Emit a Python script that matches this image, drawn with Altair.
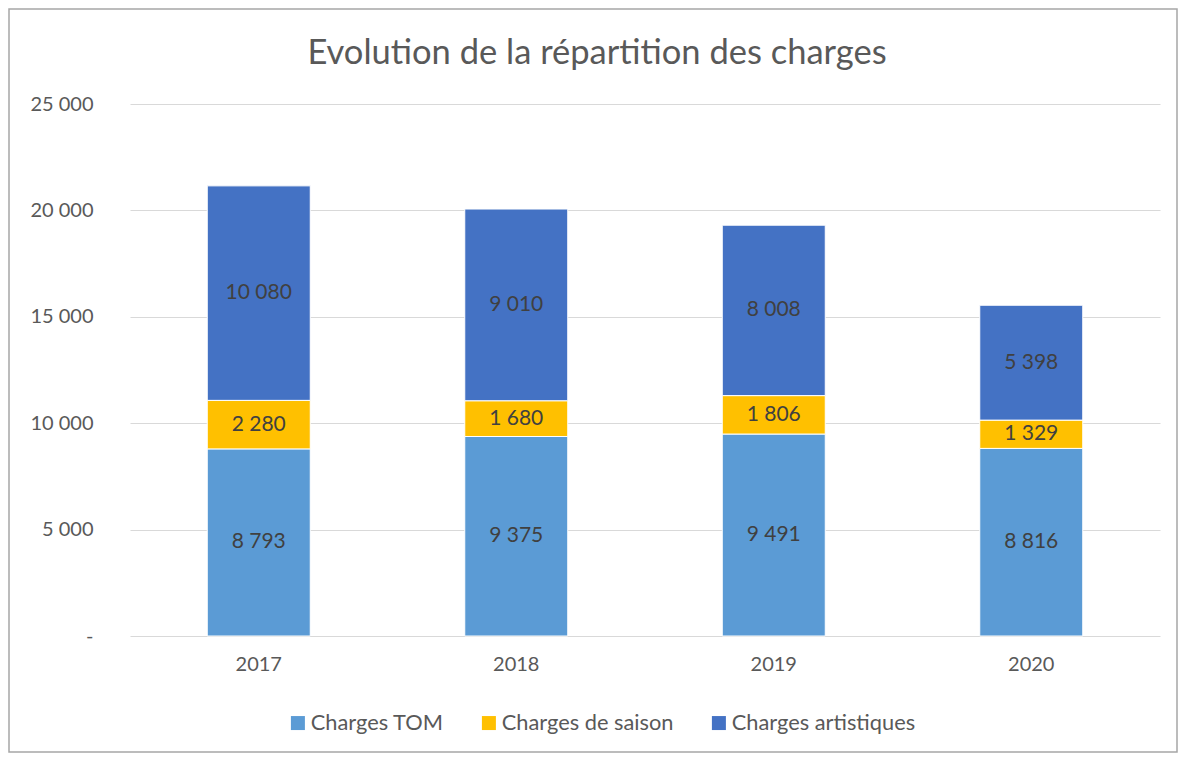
import altair as alt
import pandas as pd

years = ["2017", "2018", "2019", "2020"]
series = ["Charges TOM", "Charges de saison", "Charges artistiques"]
tom = [8793, 9375, 9491, 8816]
saison = [2280, 1680, 1806, 1329]
artistiques = [10080, 9010, 8008, 5398]
colors = ["#5B9BD5", "#FFC000", "#4472C4"]

rows = []
for i, y in enumerate(years):
    for k, (name, vals) in enumerate(zip(series, [tom, saison, artistiques])):
        v = vals[i]
        rows.append({"year": y, "serie": name, "value": v, "ord": k,
                     "label": f"{v:,}".replace(",", " ")})
df = pd.DataFrame(rows)

FONT = "Lato"
GREY = "#595959"

x_enc = alt.X("year:N", title=None,
              scale=alt.Scale(paddingInner=0.6, paddingOuter=0.3),
              axis=alt.Axis(labelAngle=0, labelFontSize=20, labelColor=GREY, labelFont=FONT,
                            labelPadding=18, ticks=False, domain=False, grid=False))

bars = alt.Chart(df).mark_bar(stroke="white", strokeWidth=1).encode(
    x=x_enc,
    y=alt.Y("value:Q", stack="zero", title=None,
            scale=alt.Scale(domain=[0, 25000], nice=False),
            axis=alt.Axis(values=[0, 5000, 10000, 15000, 20000, 25000],
                          labelExpr="datum.value == 0 ? '-\u00a0\u00a0\u00a0' : replace(format(datum.value, ','), ',', ' ')",
                          labelFontSize=20, labelColor=GREY, labelFont=FONT, labelPadding=37,
                          ticks=False, domain=False, gridColor="#d9d9d9", gridWidth=1)),
    color=alt.Color("serie:N", scale=alt.Scale(domain=series, range=colors),
                    legend=alt.Legend(title=None, orient="none", direction="horizontal",
                                      legendX=157, legendY=608, symbolType="square",
                                      symbolSize=196, symbolStrokeWidth=0,
                                      labelFontSize=21.8, labelColor=GREY, labelFont=FONT,
                                      labelOffset=2, columnPadding=34, labelLimit=0)),
    order=alt.Order("ord:Q", sort="ascending"),
)

labels = alt.Chart(df).transform_stack(
    stack="value", groupby=["year"], as_=["v0", "v1"],
    sort=[alt.SortField("ord", order="ascending")]
).transform_calculate(mid="(datum.v0 + datum.v1) / 2").mark_text(
    fontSize=21, font=FONT, color="#404040", baseline="middle", align="center"
).encode(
    x=alt.X("year:N"),
    y=alt.Y("mid:Q"),
    text="label:N",
)

border = alt.Chart(pd.DataFrame({"a": [0]})).mark_rect(
    fillOpacity=0, stroke="#a6a6a6", strokeWidth=1.5
).encode(
    x=alt.value(-121), x2=alt.value(1047), y=alt.value(-95), y2=alt.value(648)
)

chart = alt.layer(border, bars, labels).properties(
    width=1030, height=532,
    view=alt.ViewBackground(stroke=None, strokeWidth=0),
    title=alt.TitleParams("Evolution de la répartition des charges", fontSize=34.5,
                          font=FONT, color=GREY, fontWeight="normal",
                          anchor="middle", frame="group", dx=-48, offset=-90,
                          baseline="alphabetic"),
    autosize=alt.AutoSizeParams(type="none"),
    padding={"left": 122, "top": 96, "right": 22, "bottom": 117},
).configure_view(strokeWidth=0, stroke=None).configure(background="white")

chart.save("out.html", embed_options={"renderer": "svg", "actions": False})
